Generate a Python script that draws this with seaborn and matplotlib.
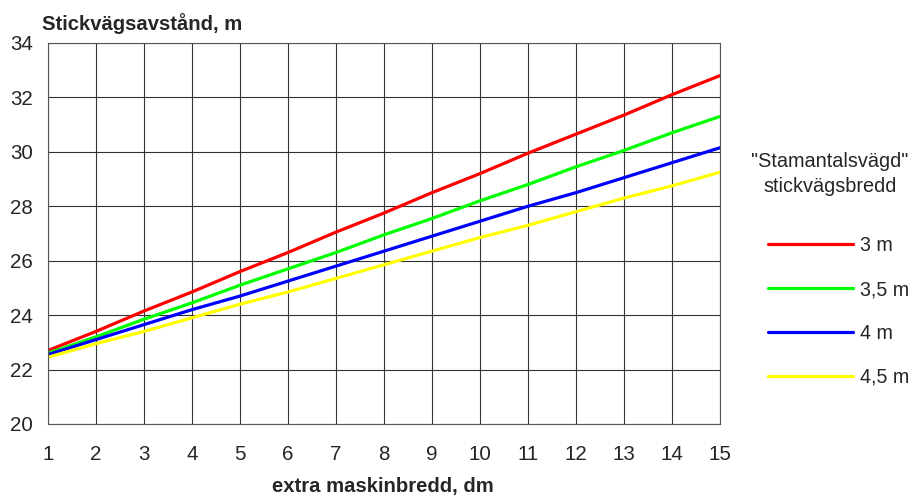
import pandas as pd
import matplotlib
matplotlib.use("Agg")
import matplotlib.pyplot as plt
import seaborn as sns

# Data
maskinbredd = list(range(1, 16))
vagd_3 = [22.7, 23.4, 24.15, 24.85, 25.6, 26.3, 27.05, 27.75, 28.5, 29.2, 29.95, 30.65, 31.35, 32.1, 32.8]
vagd_35 = [22.6, 23.2, 23.85, 24.45, 25.1, 25.7, 26.3, 26.95, 27.55, 28.2, 28.8, 29.45, 30.05, 30.7, 31.3]
vagd_4 = [22.55, 23.1, 23.65, 24.2, 24.7, 25.25, 25.8, 26.35, 26.9, 27.45, 28.0, 28.5, 29.05, 29.6, 30.15]
vagd_45 = [22.45, 22.95, 23.4, 23.9, 24.4, 24.85, 25.35, 25.85, 26.35, 26.85, 27.3, 27.8, 28.3, 28.75, 29.25]
labels = ["3 m", "3,5 m", "4 m", "4,5 m"]
colors = ["#ff0000", "#00ff00", "#0000ff", "#ffff00"]

df = pd.concat([
    pd.DataFrame({"x": maskinbredd, "y": vals, "bredd": lab})
    for vals, lab in zip([vagd_3, vagd_35, vagd_4, vagd_45], labels)
])

sns.set_style("white")
plt.rcParams['font.family'] = ['Liberation Sans', 'DejaVu Sans']

fig = plt.figure(figsize=(9.14, 4.97), dpi=100)
ax = fig.add_axes([0.0525, 0.147, 0.7352, 0.7665])

sns.lineplot(data=df, x="x", y="y", hue="bredd", palette=colors, linewidth=2.3, ax=ax, legend=False)

ax.set_xlim(1, 15)
ax.set_ylim(20, 34)
ax.set_xticks(maskinbredd)
ax.set_yticks(range(20, 35, 2))
ax.grid(True, color="#333333", linewidth=0.8)
for s in ax.spines.values():
    s.set_color("#555555")
    s.set_linewidth(0.8)
ax.tick_params(axis="both", labelsize=14.8, direction="out", length=4, color="#333333")
ax.tick_params(axis="x", pad=11)
ax.tick_params(axis="y", pad=7)
ax.set_xlabel("")
ax.set_ylabel("")

fig.text(0.046, 0.94, "Stickvägsavstånd, m", fontsize=14.6, fontweight="bold", ha="left", va="baseline")
fig.text(0.419, 0.01, "extra maskinbredd, dm", fontsize=14.6, fontweight="bold", ha="center", va="baseline")

fig.text(0.908, 0.65, "\"Stamantalsvägd\"\nstickvägsbredd", fontsize=14.3, ha="center", va="center", linespacing=1.4)

handles = [plt.Line2D([], [], color=c, linewidth=2.3) for c in colors]
fig.legend(handles, labels, loc="upper left", bbox_to_anchor=(0.8206, 0.56), frameon=False,
           fontsize=14.1, handlelength=4.35, labelspacing=1.27, handletextpad=0.35)

fig.savefig("out.png", dpi=100)
